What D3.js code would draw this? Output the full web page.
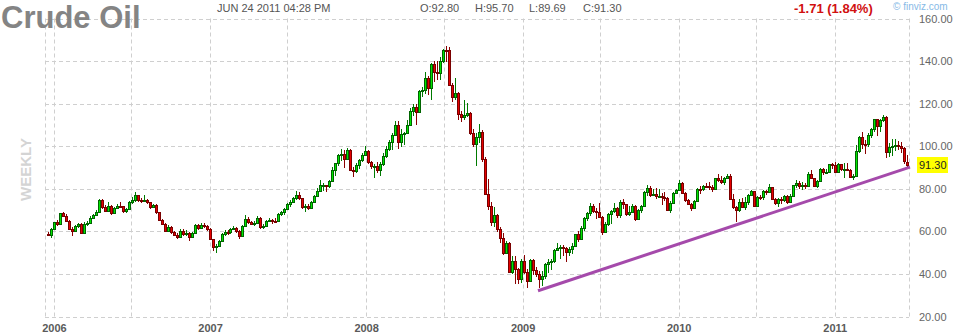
<!DOCTYPE html>
<html>
<head>
<meta charset="utf-8">
<title>Crude Oil</title>
<script src="https://cdnjs.cloudflare.com/ajax/libs/d3/7.8.5/d3.min.js"></script>
<style>
    body {
      margin: 0;
      background: #fff;
      font-family: "Liberation Sans", Arial, sans-serif;
    }
</style>
</head>
<body>
<div id="chart"></div>

<script>
    // weekly bars, week of Dec 19 2005 .. week of Jun 20 2011 (288 weeks)
    var firstWeek = new Date(2005, 11, 19);

    var opens = [
        58.9,58.4,61.0,64.2,63.4,68.4,67.3,65.0,61.2,60.0,62.5,63.3,
        59.3,63.6,64.0,66.3,67.6,69.2,74.9,71.4,69.6,71.8,68.6,71.0,
        72.0,71.7,69.4,70.5,73.8,74.5,77.0,74.8,74.2,74.6,73.6,71.4,
        72.4,68.9,65.5,63.4,60.4,62.2,59.6,58.4,57.2,60.4,58.8,59.4,
        57.2,59.0,62.8,61.4,63.2,62.3,61.0,56.2,52.6,53.2,55.4,58.9,
        59.9,59.6,61.1,61.6,60.1,57.8,62.3,65.9,64.3,63.6,64.1,66.5,
        61.9,62.4,64.9,65.2,65.1,64.8,68.0,69.0,70.7,72.8,73.9,75.6,
        77.0,75.5,71.5,72.0,71.1,74.0,76.7,79.1,81.6,81.7,81.2,83.7,
        88.6,91.9,95.9,96.3,94.0,98.2,88.7,88.3,91.3,93.3,96.0,97.9,
        92.7,90.6,90.7,89.0,91.8,95.5,98.8,101.8,105.2,110.2,101.8,105.6,
        106.2,110.1,116.7,118.5,116.3,126.0,126.3,132.2,127.4,138.5,134.9,134.6,
        140.2,145.3,145.1,128.9,123.3,125.1,115.2,113.8,114.6,115.5,106.2,101.2,
        104.5,106.9,93.9,77.7,71.9,64.2,67.8,61.0,57.0,49.9,54.4,40.8,
        46.3,42.4,37.7,46.3,40.8,36.5,46.5,41.7,40.2,37.5,38.9,44.8,
        45.5,46.3,51.1,52.4,52.5,52.2,50.3,51.6,53.2,58.6,56.3,61.7,
        66.3,68.4,72.0,69.6,69.2,66.7,59.9,63.6,68.1,69.5,70.9,67.5,
        73.9,72.7,68.0,69.3,72.0,66.0,70.0,71.8,78.5,80.5,77.0,77.4,
        76.4,76.7,76.1,75.5,69.9,73.4,78.1,79.4,82.8,78.0,74.5,72.9,
        71.2,74.1,79.8,79.7,81.5,81.2,80.7,80.0,84.9,84.3,83.2,85.1,
        86.2,75.1,71.6,70.0,74.0,71.5,73.8,77.2,78.9,72.1,76.1,76.0,
        79.0,78.6,80.7,75.4,73.5,75.2,74.6,76.5,73.7,76.5,81.6,82.7,
        81.3,81.7,81.4,86.9,84.9,81.5,83.8,89.2,87.8,88.0,91.5,91.4,
        88.0,91.5,89.1,89.3,89.0,85.6,86.2,97.9,104.4,101.2,101.1,105.4,
        107.9,112.8,109.7,112.3,113.9,97.2,99.7,100.3,100.6,100.2,99.3,92.8
    ];

    var closes = [
        58.4,61.0,64.2,63.4,68.4,67.3,65.0,61.2,60.0,62.5,63.3,59.3,
        63.6,64.0,66.3,67.6,69.2,74.9,71.4,69.6,71.8,68.6,71.0,72.0,
        71.7,69.4,70.5,73.8,74.5,77.0,74.8,74.2,74.6,73.6,71.4,72.4,
        68.9,65.5,63.4,60.4,62.2,59.6,58.4,57.2,60.4,58.8,59.4,57.2,
        59.0,62.8,61.4,63.2,62.3,61.0,56.2,52.6,53.2,55.4,58.9,59.9,
        59.6,61.1,61.6,60.1,57.8,62.3,65.9,64.3,63.6,64.1,66.5,61.9,
        62.4,64.9,65.2,65.1,64.8,68.0,69.0,70.7,72.8,73.9,75.6,77.0,
        75.5,71.5,72.0,71.1,74.0,76.7,79.1,81.6,81.7,81.2,83.7,88.6,
        91.9,95.9,96.3,94.0,98.2,88.7,88.3,91.3,93.3,96.0,97.9,92.7,
        90.6,90.7,89.0,91.8,95.5,98.8,101.8,105.2,110.2,101.8,105.6,106.2,
        110.1,116.7,118.5,116.3,126.0,126.3,132.2,127.4,138.5,134.9,134.6,140.2,
        145.3,145.1,128.9,123.3,125.1,115.2,113.8,114.6,115.5,106.2,101.2,104.5,
        106.9,93.9,77.7,71.9,64.2,67.8,61.0,57.0,49.9,54.4,40.8,46.3,
        42.4,37.7,46.3,40.8,36.5,46.5,41.7,40.2,37.5,38.9,44.8,45.5,
        46.3,51.1,52.4,52.5,52.2,50.3,51.6,53.2,58.6,56.3,61.7,66.3,
        68.4,72.0,69.6,69.2,66.7,59.9,63.6,68.1,69.5,70.9,67.5,73.9,
        72.7,68.0,69.3,72.0,66.0,70.0,71.8,78.5,80.5,77.0,77.4,76.4,
        76.7,76.1,75.5,69.9,73.4,78.1,79.4,82.8,78.0,74.5,72.9,71.2,
        74.1,79.8,79.7,81.5,81.2,80.7,80.0,84.9,84.3,83.2,85.1,86.2,
        75.1,71.6,70.0,74.0,71.5,73.8,77.2,78.9,72.1,76.1,76.0,79.0,
        78.6,80.7,75.4,73.5,75.2,74.6,76.5,73.7,76.5,81.6,82.7,81.3,
        81.7,81.4,86.9,84.9,81.5,83.8,89.2,87.8,88.0,91.5,91.4,88.0,
        91.5,89.1,89.3,89.0,85.6,86.2,97.9,104.4,101.2,101.1,105.4,107.9,
        112.8,109.7,112.3,113.9,97.2,99.7,100.3,100.6,100.2,99.3,93.0,91.3
    ];

    var highs = [
        59.6,61.4,64.6,65.2,68.8,69.2,68.0,65.4,62.0,63.0,64.0,63.8,
        64.2,64.8,67.0,68.1,69.8,75.4,75.3,72.6,73.8,72.3,71.6,73.0,
        73.8,72.0,71.2,74.2,76.0,78.4,77.3,75.8,77.2,75.1,74.0,73.0,
        72.7,69.2,66.0,63.9,63.1,62.6,60.4,59.3,61.0,60.9,60.5,59.8,
        59.6,63.6,63.3,64.0,63.9,62.8,61.5,56.6,54.0,56.0,59.4,60.6,
        60.8,61.8,62.5,62.1,60.6,62.8,67.8,66.6,65.0,64.9,67.1,66.9,
        63.3,65.5,66.3,66.0,66.2,68.5,69.6,71.0,73.2,74.5,76.1,78.8,
        78.5,75.9,72.7,72.8,74.4,77.2,80.4,83.9,82.9,82.0,84.1,90.1,
        92.2,96.2,98.6,98.3,99.3,98.6,90.1,92.1,93.8,97.0,100.1,98.4,
        93.0,91.6,92.8,92.4,96.7,100.1,103.1,106.0,111.8,112.0,107.9,106.8,
        112.2,117.8,119.9,119.9,126.3,127.8,135.1,133.0,139.1,139.9,139.9,142.1,
        145.9,147.3,146.7,129.7,132.0,125.4,116.6,121.7,120.2,116.0,108.2,106.4,
        110.5,107.6,94.8,84.6,74.0,71.4,68.2,61.9,59.3,55.6,54.9,48.3,
        48.2,42.8,46.8,49.0,42.1,47.0,47.2,43.2,41.3,41.2,45.1,47.0,
        47.2,51.6,54.7,53.4,53.6,52.6,52.5,54.4,58.7,60.1,62.3,66.6,
        69.0,73.2,72.8,71.1,73.4,67.4,64.3,68.5,69.9,73.3,71.5,74.7,
        75.0,72.9,72.0,73.0,72.5,70.6,72.6,78.9,82.0,81.1,80.0,80.5,
        80.0,78.0,78.6,76.0,74.1,78.6,79.8,83.9,83.0,78.6,75.2,73.1,
        74.6,80.2,81.1,81.9,82.6,83.0,81.6,85.2,87.1,86.0,85.5,87.0,
        86.8,77.6,72.1,75.1,75.5,76.1,77.6,79.2,79.0,76.4,77.2,79.5,
        79.3,82.4,81.0,75.8,75.5,76.0,77.3,77.3,77.5,81.7,84.0,83.5,
        83.2,82.8,87.8,88.6,85.3,84.3,89.8,90.0,89.1,91.6,91.9,92.6,
        92.3,91.8,92.1,92.0,89.4,87.0,100.5,104.9,106.9,103.0,106.0,108.5,
        113.0,112.9,112.6,114.8,114.2,101.7,103.5,103.4,102.4,101.8,99.6,95.7
    ];

    var lows = [
        57.8,57.1,60.6,62.5,62.9,66.8,64.5,60.8,57.6,59.6,61.8,58.8,
        59.0,62.6,63.6,65.6,67.0,68.8,70.6,68.9,69.1,67.9,68.2,70.4,
        70.9,68.7,68.4,70.2,72.9,74.0,73.9,73.2,73.6,72.8,70.6,70.8,
        68.3,65.0,62.9,59.8,59.6,58.8,57.6,56.5,56.8,57.9,57.8,55.4,
        56.8,58.6,60.8,60.9,61.6,60.3,55.8,50.6,50.0,52.6,55.0,57.6,
        58.4,58.9,60.5,59.4,56.6,57.4,61.9,63.6,62.9,62.7,63.6,61.3,
        61.2,62.0,64.2,63.4,63.9,64.4,67.4,67.8,70.3,71.4,73.3,74.8,
        74.6,70.5,69.1,70.0,70.6,73.4,76.0,78.6,79.0,78.3,80.6,83.3,
        85.9,90.6,93.2,89.7,93.6,88.2,85.5,87.6,89.5,92.6,95.3,91.8,
        89.2,85.0,87.6,86.1,90.9,94.6,97.6,98.2,104.6,98.6,99.4,100.6,
        105.6,109.7,114.0,110.0,115.4,122.9,124.7,124.0,121.8,130.1,131.3,131.2,
        139.1,139.7,128.2,120.9,121.8,112.4,111.3,112.2,113.6,105.5,99.7,90.5,
        101.6,92.4,77.1,70.0,62.7,62.2,59.9,54.6,48.7,49.2,40.5,40.0,
        35.1,35.2,35.9,39.9,33.2,36.0,39.3,38.4,33.6,34.2,37.8,40.4,
        41.7,45.2,50.6,46.9,48.6,45.5,48.2,49.3,52.9,55.1,56.2,60.0,
        64.9,67.4,68.4,66.0,66.3,58.3,59.6,62.7,63.3,68.6,66.1,66.2,
        70.5,67.1,67.0,68.5,65.1,65.5,68.7,71.3,76.7,76.2,76.9,75.2,
        76.0,72.4,74.4,69.5,68.6,72.7,77.9,79.1,77.5,73.6,72.4,69.5,
        70.8,73.9,77.7,78.9,80.6,79.6,78.7,79.9,83.1,82.2,81.8,84.6,
        74.7,70.5,64.2,68.9,70.8,70.2,72.4,76.4,71.6,71.4,74.8,74.5,
        77.0,78.3,75.1,72.6,71.6,73.0,73.6,72.8,73.1,76.2,80.2,79.7,
        79.2,79.7,80.7,84.6,80.7,80.6,83.6,86.6,86.8,87.7,89.3,87.3,
        87.5,88.5,85.1,88.6,85.0,84.0,86.0,96.6,98.9,96.2,99.8,103.7,
        106.9,104.7,106.5,111.3,94.6,95.1,95.4,97.8,98.0,96.8,91.8,89.7
    ];

    var priceTicks = [20, 40, 60, 80, 100, 120, 140, 160];
    var yearTicks = [2006, 2007, 2008, 2009, 2010, 2011];

    // purple support line: start and end (date, price)
    var trendDates = [new Date(2009, 1, 6), new Date(2011, 5, 26)];
    var trendValues = [32.1, 90.2];

    var quoteLabels = ["O:92.80", "H:95.70", "L:89.69", "C:91.30"];
    var lastPrice = 91.30;

    var width = 959, height = 335;
    var plot = {left: 45, right: 910, top: 18.5, bottom: 316.5};

    var weeks = d3.timeMonday.range(firstWeek, new Date(2011, 5, 21)).slice(0, closes.length);
    var bars = weeks.map(function (d, i) {
        return {date: d, o: opens[i], h: highs[i], l: lows[i], c: closes[i]};
    });

    var svg = d3.select("#chart")
        .append("svg")
            .attr("width", width)
            .attr("height", height);

    svg.append("rect")
        .attr("width", width)
        .attr("height", height)
        .attr("fill", "#fff");

    var x = d3.scaleTime()
        .domain([new Date(2005, 11, 11), new Date(2011, 5, 26)])
        .range([plot.left, plot.right]);

    var y = d3.scaleLinear()
        .domain([20, 160])
        .range([plot.bottom, plot.top]);

    // grid
    var gridDates = [];
    yearTicks.forEach(function (yr) {
        gridDates.push(new Date(yr, 0, 1));
        if (yr < 2011) gridDates.push(new Date(yr, 6, 1));
    });

    var grid = svg.append("g")
        .attr("stroke", "#cfcfcf")
        .attr("stroke-width", 1)
        .attr("stroke-dasharray", "4,3");

    grid.selectAll(".hgrid")
        .data(priceTicks)
        .enter()
        .append("line")
        .attr("x1", plot.left)
        .attr("x2", plot.right - 1)
        .attr("y1", function (d) { return Math.round(y(d)) + 0.5; })
        .attr("y2", function (d) { return Math.round(y(d)) + 0.5; });

    grid.selectAll(".vgrid")
        .data(gridDates)
        .enter()
        .append("line")
        .attr("x1", function (d) { return Math.round(x(d)) + 0.5; })
        .attr("x2", function (d) { return Math.round(x(d)) + 0.5; })
        .attr("y1", plot.top)
        .attr("y2", plot.bottom);

    // plot borders
    [plot.left, plot.right - 1].forEach(function (bx) {
        grid.append("line")
            .attr("x1", bx + 0.5).attr("x2", bx + 0.5)
            .attr("y1", plot.top).attr("y2", plot.bottom);
    });

    // "WEEKLY" watermark
    svg.append("text")
        .attr("transform", "translate(30.5,169.5) rotate(-90)")
        .attr("text-anchor", "middle")
        .attr("font-size", 15)
        .attr("font-weight", "bold")
        .attr("fill", "#d4d4d4")
        .text("WEEKLY");

    // candles
    var candles = svg.append("g")
        .selectAll("g")
        .data(bars)
        .enter()
        .append("g");

    function px(d) { return Math.floor(x(d.date)); }
    function up(d) { return d.c >= d.o; }

    candles.append("line")
        .attr("x1", function (d) { return px(d) + 0.5; })
        .attr("x2", function (d) { return px(d) + 0.5; })
        .attr("y1", function (d) { return Math.round(y(d.h)); })
        .attr("y2", function (d) { return Math.round(y(d.l)); })
        .attr("stroke", function (d) { return up(d) ? "#007a00" : "#8a0000"; })
        .attr("stroke-width", 1);

    candles.append("rect")
        .attr("x", function (d) { return px(d) - 0.5; })
        .attr("y", function (d) { return Math.round(y(Math.max(d.o, d.c))) + 0.5; })
        .attr("width", 2)
        .attr("height", function (d) {
            var t = Math.round(y(Math.max(d.o, d.c)));
            var b = Math.round(y(Math.min(d.o, d.c)));
            return Math.max(b - t, 1);
        })
        .attr("fill", function (d) { return up(d) ? "#00e600" : "#e60000"; })
        .attr("stroke", function (d) { return up(d) ? "#006400" : "#7a0000"; })
        .attr("stroke-width", 1);

    // trend line
    var trend = trendDates.map(function (d, i) { return {date: d, v: trendValues[i]}; });
    svg.append("path")
        .datum(trend)
        .attr("d", d3.line()
            .x(function (d) { return x(d.date); })
            .y(function (d) { return y(d.v); }))
        .attr("fill", "none")
        .attr("stroke", "#a54aab")
        .attr("stroke-width", 3);

    // Y axis labels (right)
    var yAxis = svg.append("g")
        .attr("transform", "translate(913,0)")
        .call(d3.axisRight(y).tickValues(priceTicks).tickFormat(d3.format(".2f")).tickSize(0).tickPadding(6));
    yAxis.select(".domain").remove();
    yAxis.selectAll("text")
        .attr("font-family", "'Liberation Sans', Arial, sans-serif")
        .attr("font-size", 11)
        .attr("fill", "#666");

    // X axis year labels
    var xAxis = svg.append("g")
        .attr("transform", "translate(0," + 317 + ")")
        .call(d3.axisBottom(x)
            .tickValues(yearTicks.map(function (yr) { return new Date(yr, 0, 1); }))
            .tickFormat(d3.timeFormat("%Y"))
            .tickSize(0)
            .tickPadding(7));
    xAxis.select(".domain").remove();
    xAxis.selectAll("text")
        .attr("font-family", "'Liberation Sans', Arial, sans-serif")
        .attr("font-size", 11)
        .attr("font-weight", "bold")
        .attr("fill", "#5a5a5a");

    // last price tag
    svg.append("rect")
        .attr("x", 917)
        .attr("y", Math.round(y(lastPrice)) - 8)
        .attr("width", 31)
        .attr("height", 16)
        .attr("fill", "#ffff00");
    svg.append("text")
        .attr("x", 919)
        .attr("y", Math.round(y(lastPrice)) + 4)
        .attr("font-size", 11)
        .attr("fill", "#222")
        .text(d3.format(".2f")(lastPrice));

    // header
    svg.append("text")
        .attr("x", 1)
        .attr("y", 28)
        .attr("font-size", 31)
        .attr("font-weight", "bold")
        .attr("fill", "#848484")
        .text("Crude Oil");

    svg.append("text")
        .attr("x", 217)
        .attr("y", 12)
        .attr("font-size", 11)
        .attr("fill", "#555")
        .text("JUN 24 2011 04:28 PM");

    var quoteX = [420, 475, 529, 583];
    svg.selectAll(".quote")
        .data(quoteLabels)
        .enter()
        .append("text")
        .attr("x", function (d, i) { return quoteX[i]; })
        .attr("y", 12)
        .attr("font-size", 11)
        .attr("fill", "#555")
        .text(function (d) { return d; });

    svg.append("text")
        .attr("x", 794)
        .attr("y", 12.5)
        .attr("font-size", 13)
        .attr("font-weight", "bold")
        .attr("fill", "#d11010")
        .text("-1.71 (1.84%)");

    svg.append("text")
        .attr("x", 893)
        .attr("y", 10)
        .attr("font-size", 10)
        .attr("fill", "#86b9e6")
        .text("\u00a9 finviz.com");
</script>
</body>
</html>
